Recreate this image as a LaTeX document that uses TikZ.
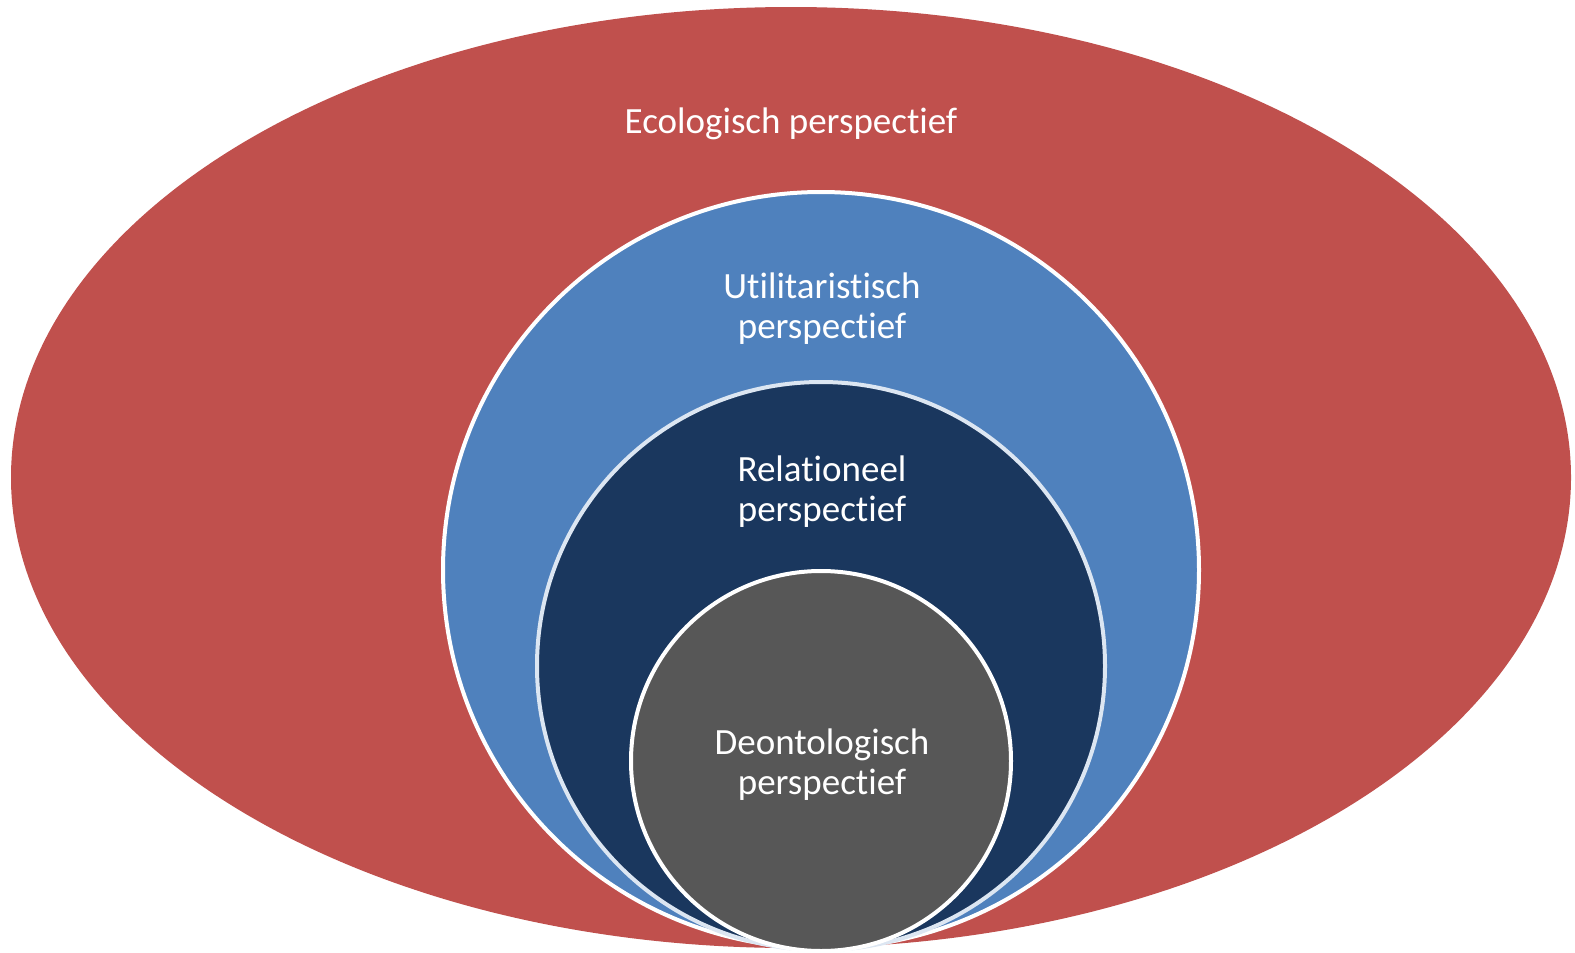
\documentclass[tikz,border=0pt]{standalone}
\usepackage{fontspec}
\setmainfont{Carlito}[Ligatures=NoCommon]
\definecolor{ecored}{HTML}{C0504D}
\definecolor{utilblue}{HTML}{4F81BD}
\definecolor{relnavy}{HTML}{1A375E}
\definecolor{deogray}{HTML}{575757}
\definecolor{paleblue}{HTML}{DCE6F2}
\tikzset{
  lbl/.style={text=white, align=center, font=\fontsize{37}{40}\selectfont, inner sep=0pt},
}
\begin{document}
\begin{tikzpicture}[x=1pt,y=-1pt]
\useasboundingbox (0,0) rectangle (1575,953);
\fill[ecored] (791,477.5) ellipse [x radius=780, y radius=470.5];
\node[circle, minimum size=756pt, inner sep=0pt, fill=utilblue, draw=white, line width=4pt] (util) at (821,570) {};
\node[circle, minimum size=568pt, inner sep=0pt, fill=relnavy, draw=paleblue, line width=4pt] (rel) at (821,666) {};
\node[circle, minimum size=380pt, inner sep=0pt, fill=deogray, draw=white, line width=4pt] (deo) at (821,761) {};
\node[lbl] (ecol) at (791,124) {Ecologisch perspectief};
\node[lbl] (utilt) at (822,309) {Utilitaristisch\\perspectief};
\node[lbl] (relt) at (822,492) {Relationeel\\perspectief};
\node[lbl] (deot) at (822,765) {Deontologisch\\perspectief};
\end{tikzpicture}
\end{document}
